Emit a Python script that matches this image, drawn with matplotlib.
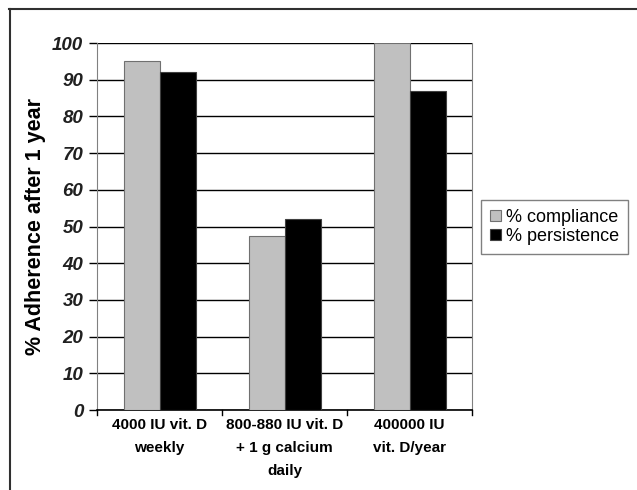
import numpy as np
import matplotlib.pyplot as plt
from matplotlib.lines import Line2D

categories = ["4000 IU vit. D\nweekly", "800-880 IU vit. D\n+ 1 g calcium\ndaily", "400000 IU\nvit. D/year"]
compliance = [95, 47.5, 100]
persistence = [92, 52, 87]
yticks = [0, 10, 20, 30, 40, 50, 60, 70, 80, 90, 100]

plt.rcParams['font.family'] = ['Liberation Sans', 'DejaVu Sans']

fig = plt.figure(figsize=(6.37, 4.90), dpi=100)
ax = fig.add_axes([97/637, 1-410/490, 375/637, 367/490])

x = np.arange(len(categories))
w = 0.288
ax.bar(x - w/2, compliance, w, color='#c0c0c0', edgecolor='#707070', linewidth=0.8,
       label='% compliance', zorder=3)
ax.bar(x + w/2, persistence, w, color='#000000', edgecolor='#404040', linewidth=0.8,
       label='% persistence', zorder=3)

ax.set_xlim(-0.5, len(categories) - 0.5)
ax.set_ylim(0, 100)
ax.set_yticks(yticks)
ax.set_yticklabels([str(t) for t in yticks], fontsize=13.5, fontweight='bold', fontstyle='italic',
                   color='#202020')
ax.yaxis.grid(True, color='black', linewidth=1, zorder=0)
ax.tick_params(axis='y', length=6, width=1, pad=4)

ax.set_xticks(x)
ax.set_xticklabels(categories, fontsize=11, fontweight='bold', linespacing=1.8)
ax.tick_params(axis='x', length=0, pad=6)
for b in [-0.5, 0.5, 1.5, 2.5]:
    ax.plot([b, b], [0, -1.4], color='black', linewidth=1, clip_on=False, zorder=4)

ax.spines['top'].set_visible(False)
ax.spines['right'].set_color('#808080')
ax.spines['left'].set_color('#808080')
ax.spines['bottom'].set_linewidth(1.2)

ax.set_ylabel('% Adherence after 1 year', fontsize=15.5, fontweight='bold', va='center')
ax.yaxis.set_label_coords((36 - 97) / 375, 0.5)

leg = fig.legend(loc='upper left', bbox_to_anchor=(481/637, 1-200/490), fontsize=13,
                 frameon=True, fancybox=False, edgecolor='#606060', handlelength=0.6,
                 handleheight=0.6, handletextpad=0.3, borderpad=0.5, labelspacing=0.1,
                 borderaxespad=0)
leg.get_frame().set_linewidth(1)

# outer frame
fig.add_artist(Line2D([9/637, 1], [1-9.5/490, 1-9.5/490], color='#303030', linewidth=1.5))
fig.add_artist(Line2D([9.5/637, 9.5/637], [0, 1-9.5/490], color='#303030', linewidth=1.5))

fig.savefig('out.png', dpi=100)
